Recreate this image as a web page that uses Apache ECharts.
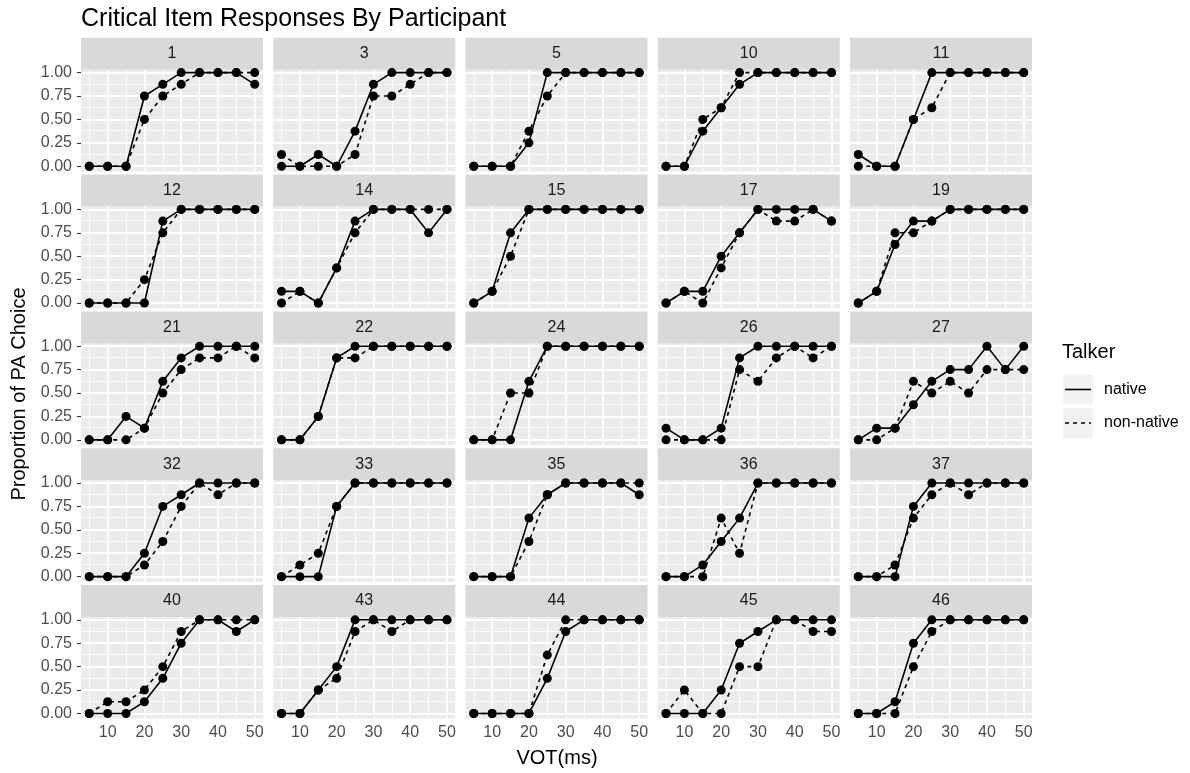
<!DOCTYPE html>
<html>
<head>
<meta charset="utf-8">
<title>Critical Item Responses By Participant</title>
<script src="https://cdn.jsdelivr.net/npm/echarts@6/dist/echarts.min.js"></script>
<style>
  html, body { margin: 0; padding: 0; background: #ffffff; }
  #chart { width: 1190px; height: 773px; }
</style>
</head>
<body>
<div id="chart"></div>
<script>
// Participants shown in the facet strips, in reading order (5 x 5)
const participants = ['1', '3', '5', '10', '11',
                      '12', '14', '15', '17', '19',
                      '21', '22', '24', '26', '27',
                      '32', '33', '35', '36', '37',
                      '40', '43', '44', '45', '46'];

// Voice onset time steps (ms)
const vot = [5, 10, 15, 20, 25, 30, 35, 40, 45, 50];

// Proportion of PA choices per participant, native talker
const nativeTalker = [
  [0, 0, 0, 0.75, 0.875, 1, 1, 1, 1, 0.875],
  [0, 0, 0.125, 0, 0.375, 0.875, 1, 1, 1, 1],
  [0, 0, 0, 0.25, 1, 1, 1, 1, 1, 1],
  [0, 0, 0.375, 0.625, 0.875, 1, 1, 1, 1, 1],
  [0.125, 0, 0, 0.5, 1, 1, 1, 1, 1, 1],
  [0, 0, 0, 0, 0.875, 1, 1, 1, 1, 1],
  [0.125, 0.125, 0, 0.375, 0.875, 1, 1, 1, 0.75, 1],
  [0, 0.125, 0.75, 1, 1, 1, 1, 1, 1, 1],
  [0, 0.125, 0.125, 0.5, 0.75, 1, 1, 1, 1, 0.875],
  [0, 0.125, 0.625, 0.875, 0.875, 1, 1, 1, 1, 1],
  [0, 0, 0.25, 0.125, 0.625, 0.875, 1, 1, 1, 1],
  [0, 0, 0.25, 0.875, 1, 1, 1, 1, 1, 1],
  [0, 0, 0, 0.625, 1, 1, 1, 1, 1, 1],
  [0.125, 0, 0, 0.125, 0.875, 1, 1, 1, 1, 1],
  [0, 0.125, 0.125, 0.375, 0.625, 0.75, 0.75, 1, 0.75, 1],
  [0, 0, 0, 0.25, 0.75, 0.875, 1, 1, 1, 1],
  [0, 0, 0, 0.75, 1, 1, 1, 1, 1, 1],
  [0, 0, 0, 0.625, 0.875, 1, 1, 1, 1, 0.875],
  [0, 0, 0.125, 0.375, 0.625, 1, 1, 1, 1, 1],
  [0, 0, 0, 0.75, 1, 1, 1, 1, 1, 1],
  [0, 0, 0, 0.125, 0.375, 0.75, 1, 1, 0.875, 1],
  [0, 0, 0.25, 0.5, 1, 1, 1, 1, 1, 1],
  [0, 0, 0, 0, 0.375, 0.875, 1, 1, 1, 1],
  [0, 0, 0, 0.25, 0.75, 0.875, 1, 1, 1, 1],
  [0, 0, 0.125, 0.75, 1, 1, 1, 1, 1, 1]
];

// Proportion of PA choices per participant, non-native talker
const nonNativeTalker = [
  [0, 0, 0, 0.5, 0.75, 0.875, 1, 1, 1, 1],
  [0.125, 0, 0, 0, 0.125, 0.75, 0.75, 0.875, 1, 1],
  [0, 0, 0, 0.375, 0.75, 1, 1, 1, 1, 1],
  [0, 0, 0.5, 0.625, 1, 1, 1, 1, 1, 1],
  [0, 0, 0, 0.5, 0.625, 1, 1, 1, 1, 1],
  [0, 0, 0, 0.25, 0.75, 1, 1, 1, 1, 1],
  [0, 0.125, 0, 0.375, 0.75, 1, 1, 1, 1, 1],
  [0, 0.125, 0.5, 1, 1, 1, 1, 1, 1, 1],
  [0, 0.125, 0, 0.375, 0.75, 1, 0.875, 0.875, 1, 0.875],
  [0, 0.125, 0.75, 0.75, 0.875, 1, 1, 1, 1, 1],
  [0, 0, 0, 0.125, 0.5, 0.75, 0.875, 0.875, 1, 0.875],
  [0, 0, 0.25, 0.875, 0.875, 1, 1, 1, 1, 1],
  [0, 0, 0.5, 0.5, 1, 1, 1, 1, 1, 1],
  [0, 0, 0, 0, 0.75, 0.625, 0.875, 1, 0.875, 1],
  [0, 0, 0.125, 0.625, 0.5, 0.625, 0.5, 0.75, 0.75, 0.75],
  [0, 0, 0, 0.125, 0.375, 0.75, 1, 0.875, 1, 1],
  [0, 0.125, 0.25, 0.75, 1, 1, 1, 1, 1, 1],
  [0, 0, 0, 0.375, 0.875, 1, 1, 1, 1, 1],
  [0, 0, 0, 0.625, 0.25, 1, 1, 1, 1, 1],
  [0, 0, 0.125, 0.625, 0.875, 1, 0.875, 1, 1, 1],
  [0, 0.125, 0.125, 0.25, 0.5, 0.875, 1, 1, 1, 1],
  [0, 0, 0.25, 0.375, 0.875, 1, 0.875, 1, 1, 1],
  [0, 0, 0, 0, 0.625, 1, 1, 1, 1, 1],
  [0, 0.25, 0, 0, 0.5, 0.5, 1, 1, 0.875, 0.875],
  [0, 0, 0, 0.5, 0.875, 1, 1, 1, 1, 1]
];

// Axis breaks
const xBreaks = [10, 20, 30, 40, 50];
const xMinorBreaks = [5, 15, 25, 35, 45];
const yBreaks = [0, 0.25, 0.5, 0.75, 1];
const yMinorBreaks = [0.125, 0.375, 0.625, 0.875];

const talkerLabels = ['native', 'non-native'];

// ---- layout ----
const FONT = '"Liberation Sans", Arial, Helvetica, sans-serif';
const NCOL = 5, NROW = 5;
const PANEL_LEFT = 81, PANEL_STEP_X = 192.25, PANEL_W = 182;
const PANEL_TOP = 69.8, PANEL_STEP_Y = 136.8, PANEL_H = 101.6;
const STRIP_H = 32;
const X_MIN = 2.75, X_MAX = 52.25;
const Y_MIN = -0.055, Y_MAX = 1.03;

const grids = [], xAxes = [], yAxes = [], series = [], graphics = [];

participants.forEach((p, i) => {
  const col = i % NCOL, row = Math.floor(i / NCOL);
  const left = PANEL_LEFT + col * PANEL_STEP_X;
  const top = PANEL_TOP + row * PANEL_STEP_Y;
  const bottomRow = row === NROW - 1, firstCol = col === 0;

  grids.push({
    left: left, top: top, width: PANEL_W, height: PANEL_H,
    show: true, backgroundColor: '#ebebeb', borderWidth: 0, containLabel: false
  });

  xAxes.push({
    type: 'value', gridIndex: i, min: X_MIN, max: X_MAX,
    minInterval: 10, maxInterval: 10,
    axisLine: { show: false },
    axisTick: { show: bottomRow, length: 4, customValues: xBreaks,
                lineStyle: { color: '#333333', width: 1.1 } },
    axisLabel: { show: bottomRow, customValues: xBreaks, margin: 6,
                 color: '#4d4d4d', fontSize: 16, fontFamily: FONT },
    splitLine: { show: false }
  });

  yAxes.push({
    type: 'value', gridIndex: i, min: Y_MIN, max: Y_MAX,
    minInterval: 0.25, maxInterval: 0.25,
    axisLine: { show: false },
    axisTick: { show: firstCol, length: 4, customValues: yBreaks,
                lineStyle: { color: '#333333', width: 1.1 } },
    axisLabel: { show: firstCol, customValues: yBreaks, margin: 9,
                 color: '#4d4d4d', fontSize: 16, fontFamily: FONT,
                 formatter: v => Number(v).toFixed(2) },
    splitLine: { show: false }
  });

  // panel grid lines, kept beneath the data marks
  const major = { color: '#ffffff', width: 1.8, type: 'solid' };
  const minor = { color: '#ffffff', width: 0.9, type: 'solid' };
  const lines = [];
  xMinorBreaks.forEach(v => lines.push({ xAxis: v, lineStyle: minor }));
  yMinorBreaks.forEach(v => lines.push({ yAxis: v, lineStyle: minor }));
  xBreaks.forEach(v => lines.push({ xAxis: v, lineStyle: major }));
  yBreaks.forEach(v => lines.push({ yAxis: v, lineStyle: major }));
  series.push({
    type: 'line', xAxisIndex: i, yAxisIndex: i, data: [], silent: true, z: 1,
    markLine: {
      z: 1, silent: true, animation: false, symbol: ['none', 'none'],
      label: { show: false }, emphasis: { disabled: true },
      lineStyle: { color: '#ffffff', type: 'solid' },
      data: lines
    }
  });

  [nativeTalker[i], nonNativeTalker[i]].forEach((vals, t) => {
    series.push({
      name: talkerLabels[t],
      type: 'line', xAxisIndex: i, yAxisIndex: i,
      data: vot.map((x, k) => [x, vals[k]]),
      symbol: 'circle', symbolSize: 9, showAllSymbol: true,
      lineStyle: { color: '#000000', width: 1.6, type: t === 0 ? 'solid' : [4, 4] },
      itemStyle: { color: '#000000' },
      emphasis: { disabled: true }, silent: true, z: 10 + t
    });
  });

  // facet strip
  graphics.push({
    type: 'rect', silent: true,
    shape: { x: left, y: top - STRIP_H, width: PANEL_W, height: STRIP_H },
    style: { fill: '#d9d9d9' }
  });
  graphics.push({
    type: 'text', silent: true,
    style: { text: p, x: left + PANEL_W / 2, y: top - STRIP_H / 2,
             align: 'center', verticalAlign: 'middle',
             fill: '#1a1a1a', fontSize: 16, fontFamily: FONT }
  });
});

// title and axis titles
graphics.push({
  type: 'text', silent: true,
  style: { text: 'Critical Item Responses By Participant', x: 81, y: 19.5,
           align: 'left', verticalAlign: 'middle',
           fill: '#000000', fontSize: 25, fontFamily: FONT }
});
graphics.push({
  type: 'text', silent: true,
  style: { text: 'VOT(ms)', x: 557, y: 758, align: 'center', verticalAlign: 'middle',
           fill: '#000000', fontSize: 20, fontFamily: FONT }
});
graphics.push({
  type: 'text', silent: true, x: 19.5, y: 394, rotation: Math.PI / 2,
  style: { text: 'Proportion of PA Choice', x: 0, y: 0, align: 'center', verticalAlign: 'middle',
           fill: '#000000', fontSize: 20, fontFamily: FONT }
});

// legend
const LEG_X = 1063, LEG_KEY = 30;
const legendKeysY = [374.5, 408];
graphics.push({
  type: 'text', silent: true,
  style: { text: 'Talker', x: 1062, y: 352, align: 'left', verticalAlign: 'middle',
           fill: '#000000', fontSize: 20, fontFamily: FONT }
});
talkerLabels.forEach((lab, t) => {
  const ky = legendKeysY[t];
  graphics.push({
    type: 'rect', silent: true,
    shape: { x: LEG_X, y: ky, width: LEG_KEY, height: LEG_KEY },
    style: { fill: '#f2f2f2' }
  });
  graphics.push({
    type: 'line', silent: true,
    shape: { x1: LEG_X + 2, y1: ky + LEG_KEY / 2, x2: LEG_X + LEG_KEY - 2, y2: ky + LEG_KEY / 2 },
    style: { stroke: '#000000', lineWidth: 1.6, lineDash: t === 0 ? null : [4, 4] }
  });
  graphics.push({
    type: 'text', silent: true,
    style: { text: lab, x: 1104, y: ky + LEG_KEY / 2, align: 'left', verticalAlign: 'middle',
             fill: '#000000', fontSize: 16, fontFamily: FONT }
  });
});

const chart = echarts.init(document.getElementById('chart'), null, { renderer: 'canvas' });
chart.setOption({
  animation: false,
  backgroundColor: '#ffffff',
  grid: grids,
  xAxis: xAxes,
  yAxis: yAxes,
  series: series,
  graphic: { elements: graphics }
});
</script>
</body>
</html>
